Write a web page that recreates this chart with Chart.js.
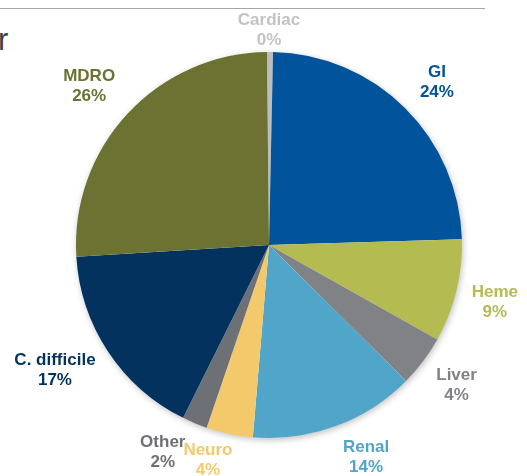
<!DOCTYPE html>
<html>
<head>
<meta charset="utf-8">
<script src="https://cdn.jsdelivr.net/npm/chart.js@4/dist/chart.umd.min.js"></script>
<style>
  html, body { margin: 0; padding: 0; background: #fff; }
  #wrap { position: relative; width: 527px; height: 476px; overflow: hidden; }
  #rule { position: absolute; left: 0; top: 8px; width: 485px; height: 0; border-top: 1.5px solid #a6a6a6; }
  #title { position: absolute; left: -2px; top: 22px; font: 31px "Liberation Sans", Arial, sans-serif; color: #404040; }
  canvas { position: absolute; left: 0; top: 0; }
</style>
</head>
<body>
<div id="wrap">
  <div id="rule"></div>
  <div id="title">r</div>
  <canvas id="myChart" width="527" height="476"></canvas>
</div>
<script>
// categories, values (share of cases, %), and the labels shown beside each slice
const categories = ["Cardiac", "GI", "Heme", "Liver", "Renal", "Neuro", "Other", "C. difficile", "MDRO"];
const shares = [0.5, 24.2, 8.6, 4.3, 13.9, 3.9, 2.1, 16.7, 25.8];
const shownPct = ["0%", "24%", "9%", "4%", "14%", "4%", "2%", "17%", "26%"];
const sliceColors = ["#bdbdbf", "#01539b", "#b3bb51", "#808286", "#50a5c9", "#f4c96b", "#6d7075", "#02325d", "#6c7232"];
const labelColors = ["#c3c3c5", "#01539b", "#b3bb51", "#808286", "#50a5c9", "#f4c96b", "#6d7075", "#02325d", "#6c7232"];

// label placement tweaks: px beyond the pie edge, and degrees of turn from slice middle
const labelGap = [22, 41, 40, 41, 40, 31, 40, 55, 47];
const labelTurn = [-0.3, 1.1, 0.4, -0.3, -4.4, 4, 4.5, 3.2, -1.5];

const shadowPlugin = {
  id: "pieShadow",
  beforeDatasetsDraw(chart) {
    const arc = chart.getDatasetMeta(0).data[0];
    if (!arc) return;
    const ctx = chart.ctx;
    ctx.save();
    ctx.shadowColor = "rgba(0,0,0,0.28)";
    ctx.shadowBlur = 7;
    ctx.shadowOffsetX = 1;
    ctx.shadowOffsetY = 2;
    ctx.fillStyle = "#ffffff";
    ctx.beginPath();
    ctx.arc(arc.x, arc.y, arc.outerRadius - 0.5, 0, Math.PI * 2);
    ctx.fill();
    ctx.restore();
  }
};

const labelPlugin = {
  id: "outerLabels",
  afterDatasetsDraw(chart) {
    const ctx = chart.ctx;
    const meta = chart.getDatasetMeta(0);
    ctx.save();
    ctx.font = "bold 17px 'Liberation Sans', Arial, sans-serif";
    ctx.textAlign = "center";
    ctx.textBaseline = "middle";
    meta.data.forEach((arc, i) => {
      const mid = (arc.startAngle + arc.endAngle) / 2 + labelTurn[i] * Math.PI / 180;
      const r = arc.outerRadius + labelGap[i];
      const x = arc.x + Math.cos(mid) * r;
      const y = arc.y + Math.sin(mid) * r;
      ctx.fillStyle = labelColors[i];
      ctx.fillText(categories[i], x, y - 10);
      ctx.fillText(shownPct[i], x, y + 10);
    });
    ctx.restore();
  }
};

const ctx = document.getElementById("myChart").getContext("2d");
new Chart(ctx, {
  type: "pie",
  data: {
    labels: categories,
    datasets: [{
      data: shares,
      backgroundColor: sliceColors,
      borderWidth: 0
    }]
  },
  options: {
    responsive: false,
    animation: false,
    rotation: -0.6,
    layout: { padding: { left: 76, top: 52, right: 65, bottom: 38 } },
    events: [],
    plugins: {
      legend: { display: false },
      tooltip: { enabled: false }
    }
  },
  plugins: [shadowPlugin, labelPlugin]
});
</script>
</body>
</html>
